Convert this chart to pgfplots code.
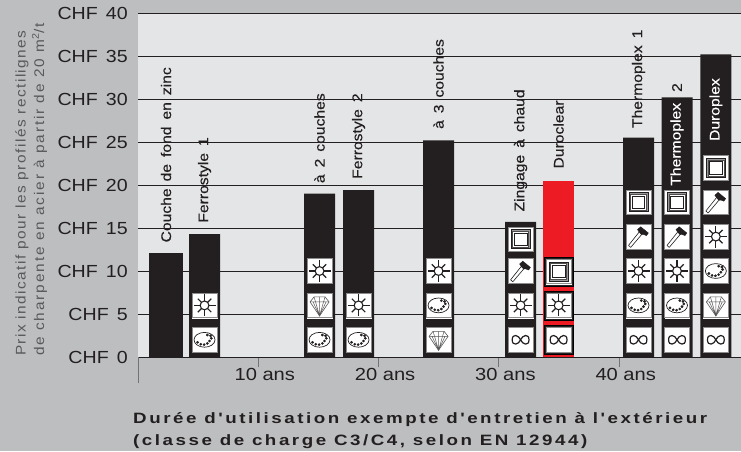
\documentclass[border=0pt]{standalone}
\usepackage{pgfplots}
\pgfplotsset{compat=1.18}
\usepackage{fontspec}
\setmainfont[FakeStretch=1.12]{Liberation Sans}
\newfontfamily\ticks[FakeStretch=1.12,WordSpace=1.5]{Liberation Sans}
\newfontfamily\xticks[FakeStretch=1.15]{Liberation Sans}
\newfontfamily\barfont[FakeStretch=1.12,WordSpace=1.6,FakeBold=0.25]{Liberation Sans}
\newfontfamily\ylabfont[FakeStretch=1.1,LetterSpace=10.5]{Liberation Sans}
\newfontfamily\ylabwide[FakeStretch=1.1,LetterSpace=13.5]{Liberation Sans}
\newfontfamily\spaced[FakeStretch=1.25,LetterSpace=17]{Liberation Sans}
\definecolor{outer}{HTML}{BDBEC0}
\definecolor{inner}{HTML}{E4E5E7}
\definecolor{ink}{HTML}{231F20}
\definecolor{redbar}{HTML}{ED1C24}
\definecolor{greytxt}{HTML}{58595B}

\newcommand{\iconbox}{%
  \fill[white] (-12.3,-12.3) rectangle (12.3,12.3);
  \draw[black!45,line width=.6] (-12.3,-12.3) rectangle (12.3,12.3);}
\pgfdeclareplotmark{sun}{\begin{scope}[x=1pt,y=1pt]\iconbox
  \draw[ink,line width=1.1] (0,0) circle (4.4);
  \foreach \a in {0,90,180,270} {\draw[ink,line width=1.2] (\a:4.4) -- (\a:11);}
  \foreach \a in {45,135,225,315} {\draw[ink,line width=1.2] (\a:4.4) -- (\a:9.5);}
  \end{scope}}
\pgfdeclareplotmark{palette}{\begin{scope}[x=1pt,y=1pt]\iconbox
  \draw[ink,line width=.7] (0,0) ellipse (10.5 and 7.4);
  \foreach \p in {(-7,-2.5),(-3.8,-4.4),(-.4,-4.8),(2.8,-3.6),(5,-1.2),(6.8,1.5),(6,4),(2.8,4.8)} {\fill[ink] \p circle (1.15);}
  \end{scope}}
\pgfdeclareplotmark{gem}{\begin{scope}[x=1pt,y=1pt]\iconbox
  \draw[ink!75,line width=.6,line join=round] (-5.5,8.5) -- (5.5,8.5) -- (9.5,3.5) -- (0,-10.5) -- (-9.5,3.5) -- cycle;
  \draw[ink!75,line width=.5] (-9.5,3.5) -- (9.5,3.5) (-5.5,8.5) -- (-4,3.5) -- (0,-10.5) -- (4,3.5) -- (5.5,8.5) (0,8.5) -- (0,-10.5) (-6.5,3.5) -- (0,-10.5) -- (6.5,3.5);
  \end{scope}}
\pgfdeclareplotmark{hammer}{\begin{scope}[x=1pt,y=1pt]\iconbox
  \draw[ink,line width=.6,fill=white,line join=round] (-10,-8.8) -- (-7.8,-10.8) -- (3.6,2.6) -- (1,5) -- cycle;
  \fill[ink] (-1,7) -- (2.2,9.8) -- (4.2,8.2) -- (9.8,3.6) -- (8,1) -- (5,2.2) -- (3,2) -- (0.8,4.4) -- cycle;
  \end{scope}}
\pgfdeclareplotmark{frame}{\begin{scope}[x=1pt,y=1pt]\iconbox
  \draw[ink,line width=.6,fill=black!40] (-9.5,-9.5) rectangle (9.5,9.5);
  \draw[ink!80,line width=.4,fill=white] (-8,-8) rectangle (8,8);
  \draw[ink,line width=.7,fill=white] (-6.3,-6.3) rectangle (6.3,6.3);
  \end{scope}}
\pgfdeclareplotmark{infty}{\begin{scope}[x=1pt,y=1pt]\iconbox
  \draw[ink,line width=1.2] (0,0) .. controls (1.8,4.8) and (8.4,6.6) .. (8.4,0) .. controls (8.4,-6.6) and (1.8,-4.8) .. (0,0) .. controls (-1.8,4.8) and (-8.4,6.6) .. (-8.4,0) .. controls (-8.4,-6.6) and (-1.8,-4.8) .. (0,0);
  \end{scope}}

\newcommand{\lab}[4]{\node[rotate=90,anchor=west,inner sep=0pt,font=\barfont\fontsize{14}{16}\selectfont,text=#4] at (axis cs:#1,#2) {#3};}

\begin{document}
\begin{tikzpicture}[x=1pt,y=1pt]
\path[use as bounding box,fill=outer] (0,0) rectangle (741,451);
\begin{axis}[
  at={(138pt,94pt)},anchor=south west,scale only axis,width=603pt,height=344pt,
  xmin=0,xmax=50.12,ymin=0,ymax=40,clip=false,
  axis x line=bottom,axis y line=left,axis line style={-,ink,line width=.8pt},
  y axis line style={draw=none},
  axis background/.style={fill=inner},
  ytick={0,5,...,40},
  yticklabels={CHF 0,CHF 5,CHF 10,CHF 15,CHF 20,CHF 25,CHF 30,CHF 35,CHF 40},
  ymajorgrids,grid style={ink,line width=.8pt},
  y tick style={draw=none},
  xtick={10,20,30,40},xticklabels={10 ans,20 ans,30 ans,40 ans},
  x tick style={black!55,line width=1pt},
  tick align=outside,major tick length=10pt,
  extra x ticks={0},extra x tick labels={},
  extra x tick style={major tick length=26pt,tick style={ink!80,line width=.7pt}},
  yticklabel style={font=\ticks\fontsize{17.5}{20}\selectfont,text=ink,inner sep=0pt,xshift=0pt},
  xticklabel style={font=\xticks\fontsize{17.5}{20}\selectfont,text=ink,inner sep=0pt,xshift=6.5pt,yshift=-1pt},
]
% bars
\addplot[ybar,bar shift=0pt,bar width=34pt,fill=ink,draw=none] coordinates {(2.33,12.1)};
\addplot[ybar,bar shift=0pt,bar width=31pt,fill=ink,draw=none] coordinates {
 (5.53,14.3)(15.09,19.0)(18.33,19.4)(24.98,25.2)(31.8,15.7)(41.6,25.5)(44.8,30.2)(48.03,35.2)};
\addplot[ybar,bar shift=0pt,bar width=31pt,fill=redbar,draw=none] coordinates {(34.96,20.5)};
% dark patches behind the Duroclear icons
\addplot[only marks,mark=square*,mark size=14.7pt,mark options={fill=ink,draw=none}] coordinates {(34.96,2.0)(34.96,6.0)(34.96,9.95)};
% icons
\addplot[only marks,mark=palette] coordinates {(5.53,2)(15.09,2)(18.33,2)(24.98,6)(41.6,6)(44.8,6)(48.03,10)};
\addplot[only marks,mark=sun] coordinates {(5.53,6)(15.09,10)(18.33,6)(24.98,10)(31.8,6)(34.96,6)(41.6,10)(44.8,10)(48.03,14)};
\addplot[only marks,mark=gem] coordinates {(15.09,6)(24.98,2)(48.03,6)};
\addplot[only marks,mark=hammer] coordinates {(31.8,10)(41.6,14)(44.8,14)(48.03,18)};
\addplot[only marks,mark=frame] coordinates {(31.8,13.7)(34.96,9.95)(41.6,18)(44.8,18)(48.03,22)};
\addplot[only marks,mark=infty] coordinates {(31.8,2)(34.96,2)(41.6,2)(44.8,2)(48.03,2)};
% bar labels
\lab{2.33}{13.3}{Couche de fond en zinc}{ink}
\lab{5.53}{15.6}{Ferrostyle 1}{ink}
\lab{15.09}{20.2}{à 2 couches}{ink}
\lab{18.33}{20.7}{Ferrostyle 2}{ink}
\lab{24.98}{26.5}{à 3 couches}{ink}
\lab{31.8}{16.9}{Zingage à chaud}{ink}
\lab{34.96}{21.9}{Duroclear}{ink}
\lab{41.6}{26.6}{Thermoplex 1}{ink}
\lab{44.8}{19.9}{Thermoplex}{white}
\lab{44.8}{30.8}{2}{ink}
\lab{48.03}{25.1}{Duroplex}{white}
\end{axis}
\node[rotate=90,anchor=north west,align=left,font=\ylabfont\fontsize{14}{18.5}\selectfont,text=greytxt,inner sep=0pt] at (15,95) {Prix indicatif pour les profilés rectilignes\\{\ylabwide de charpente en acier à partir de 20 m\textsuperscript{2}/t}};
\node[anchor=base west,inner sep=0pt,font=\spaced\bfseries\fontsize{15}{18}\selectfont,text=ink] at (133,28) {Durée d'utilisation exempte d'entretien à l'extérieur};
\node[anchor=base west,inner sep=0pt,font=\spaced\bfseries\fontsize{15}{18}\selectfont,text=ink] at (133,6) {(classe de charge C3/C4, selon EN 12944)};
\end{tikzpicture}
\end{document}
